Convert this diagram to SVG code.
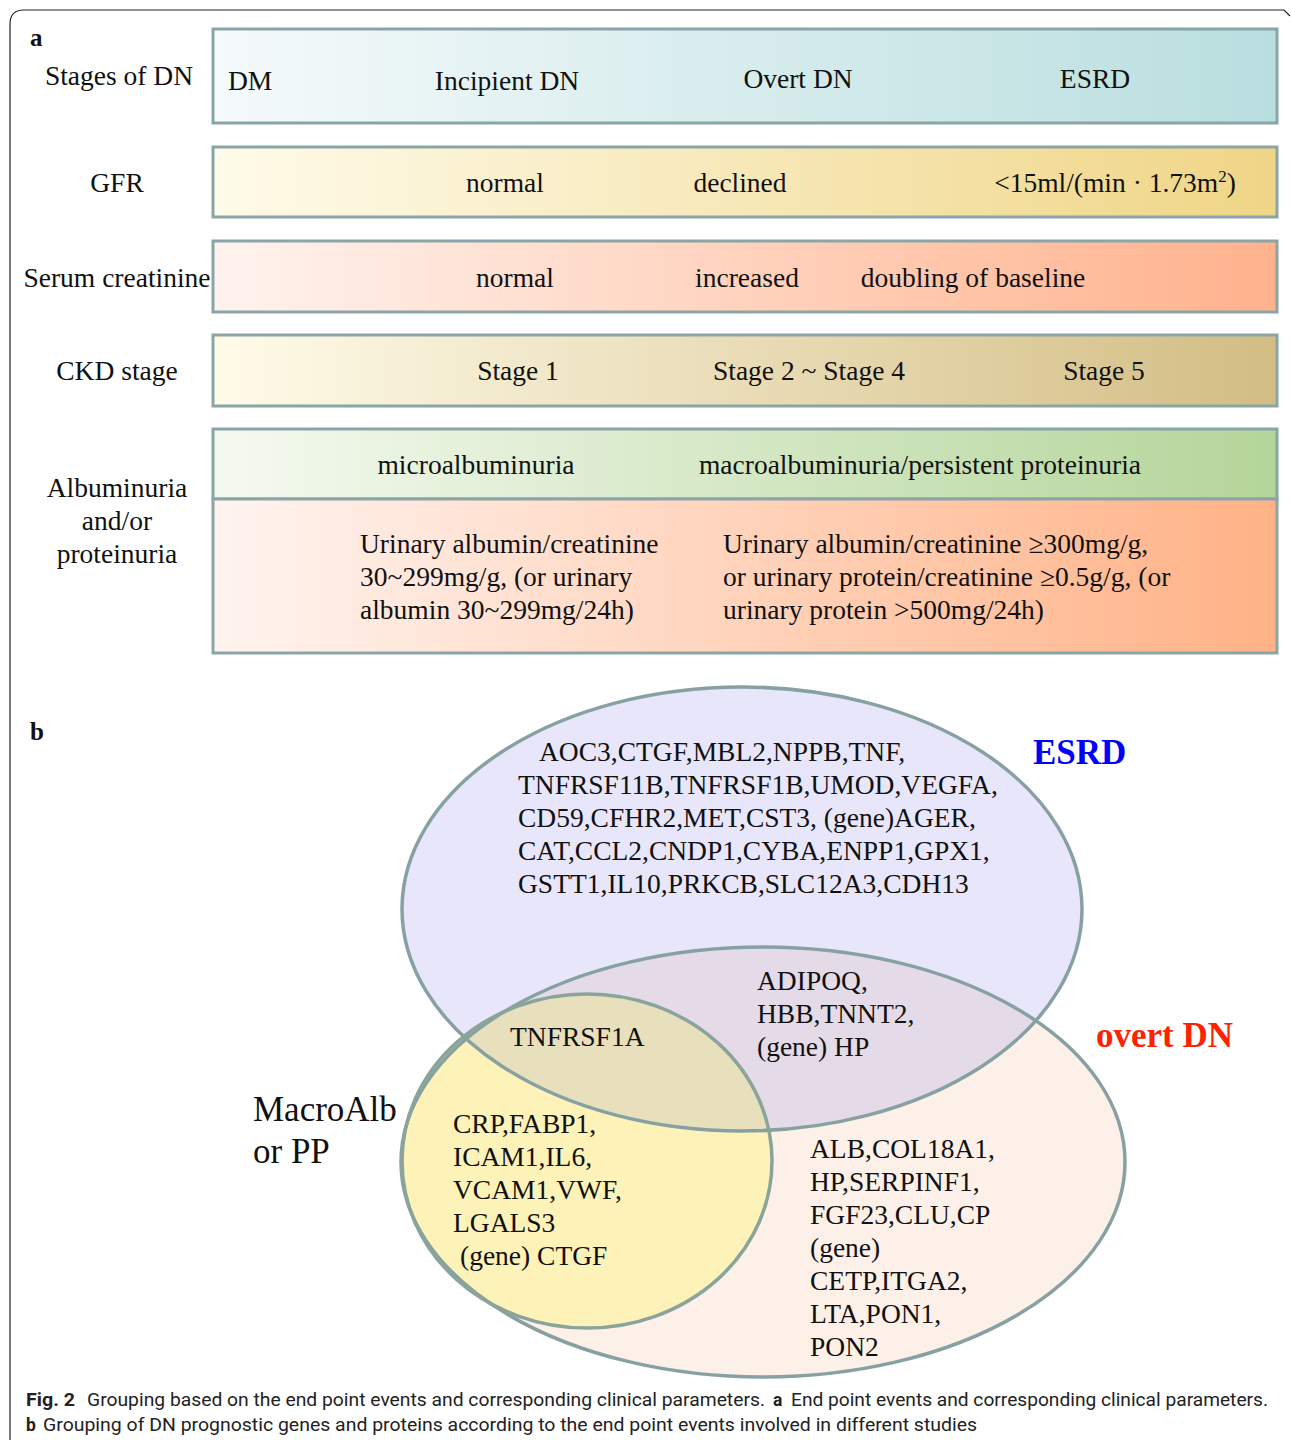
<svg xmlns="http://www.w3.org/2000/svg" width="1292" height="1443" viewBox="0 0 1292 1443">
<style>
.t{font-family:"Liberation Serif","Times New Roman",serif;font-size:27.5px;fill:#111}
.big{font-size:35px}
.lbl{font-size:25px;font-weight:bold}
.c{text-anchor:middle}
.box{stroke:#8aa5a7;stroke-width:3}
.ell{fill:none;stroke:#87a1a3;stroke-width:3.5}
.cap{font-family:Roboto,"Open Sans",sans-serif;font-size:17.5px;fill:#222}
.b{font-weight:bold}
</style>
<defs>
<linearGradient id="g1"><stop offset="0" stop-color="#f5fafb"/><stop offset="1" stop-color="#b9dedf"/></linearGradient>
<linearGradient id="g2"><stop offset="0" stop-color="#fffbea"/><stop offset="1" stop-color="#efd586"/></linearGradient>
<linearGradient id="g3"><stop offset="0" stop-color="#fff3ef"/><stop offset="1" stop-color="#ffb28c"/></linearGradient>
<linearGradient id="g4"><stop offset="0" stop-color="#fffbe9"/><stop offset="1" stop-color="#d3bd84"/></linearGradient>
<linearGradient id="g5"><stop offset="0" stop-color="#f5faf0"/><stop offset="1" stop-color="#b4d59a"/></linearGradient>
<linearGradient id="g6"><stop offset="0" stop-color="#fff4f0"/><stop offset="1" stop-color="#ffb286"/></linearGradient>
<clipPath id="cOvert"><ellipse cx="763" cy="1162" rx="362" ry="215"/></clipPath>
<clipPath id="cEsrd"><ellipse cx="742" cy="909" rx="340" ry="222"/></clipPath>
</defs>
<path d="M10,1440 L10,24 Q10,10 24,10 L1284,10 L1290,16" fill="none" stroke="#222" stroke-width="1.2"/>
<g id="panel-a">
<text x="30" y="46" class="t lbl">a</text>
<g id="stages">
<rect x="213" y="29" width="1064" height="94" fill="url(#g1)" class="box"/>
<text x="119" y="85" class="t c">Stages of DN</text>
<text x="228" y="90" class="t">DM</text>
<text x="507" y="90" class="t c">Incipient DN</text>
<text x="798" y="88" class="t c">Overt DN</text>
<text x="1095" y="88" class="t c">ESRD</text>
</g>
<g id="gfr">
<rect x="213" y="147" width="1064" height="70" fill="url(#g2)" class="box"/>
<text x="117" y="192" class="t c">GFR</text>
<text x="505" y="192" class="t c">normal</text>
<text x="740" y="192" class="t c">declined</text>
<text x="1115" y="192" class="t c">&lt;15ml/(min · 1.73m<tspan font-size="17" dy="-10">2</tspan><tspan dy="10">)</tspan></text>
</g>
<g id="creatinine">
<rect x="213" y="241" width="1064" height="71" fill="url(#g3)" class="box"/>
<text x="117" y="287" class="t c">Serum creatinine</text>
<text x="515" y="287" class="t c">normal</text>
<text x="747" y="287" class="t c">increased</text>
<text x="973" y="287" class="t c">doubling of baseline</text>
</g>
<g id="ckd">
<rect x="213" y="335" width="1064" height="71" fill="url(#g4)" class="box"/>
<text x="117" y="380" class="t c">CKD stage</text>
<text x="518" y="380" class="t c">Stage 1</text>
<text x="809" y="380" class="t c">Stage 2 ~ Stage 4</text>
<text x="1104" y="380" class="t c">Stage 5</text>
</g>
<g id="albuminuria">
<rect x="213" y="429" width="1064" height="70" fill="url(#g5)" class="box"/>
<rect x="213" y="499" width="1064" height="154" fill="url(#g6)" class="box"/>
<text x="117" y="497" class="t c">Albuminuria</text>
<text x="117" y="530" class="t c">and/or</text>
<text x="117" y="563" class="t c">proteinuria</text>
<text x="476" y="474" class="t c">microalbuminuria</text>
<text x="920" y="474" class="t c">macroalbuminuria/persistent proteinuria</text>
<text x="360" y="553" class="t">Urinary albumin/creatinine</text>
<text x="360" y="586" class="t">30~299mg/g, (or urinary</text>
<text x="360" y="619" class="t">albumin 30~299mg/24h)</text>
<text x="723" y="553" class="t">Urinary albumin/creatinine ≥300mg/g,</text>
<text x="723" y="586" class="t">or urinary protein/creatinine ≥0.5g/g, (or</text>
<text x="723" y="619" class="t">urinary protein &gt;500mg/24h)</text>
</g>
</g>
<g id="panel-b">
<text x="30" y="740" class="t lbl">b</text>
<g id="fills">
<ellipse cx="763" cy="1162" rx="362" ry="215" fill="#fdf0e8"/>
<ellipse cx="742" cy="909" rx="340" ry="222" fill="#e8e6fa"/>
<ellipse cx="742" cy="909" rx="340" ry="222" fill="#e5dbe8" clip-path="url(#cOvert)"/>
<ellipse cx="587" cy="1161" rx="185" ry="167" fill="#fdf2b8"/>
<ellipse cx="587" cy="1161" rx="185" ry="167" fill="#e8e0bc" clip-path="url(#cEsrd)"/>
</g>
<g id="node-overt">
<ellipse cx="763" cy="1162" rx="362" ry="215" class="ell"/>
<text x="1096" y="1047" class="t big b" style="fill:#ff2200">overt DN</text>
</g>
<g id="node-esrd">
<ellipse cx="742" cy="909" rx="340" ry="222" class="ell"/>
<text x="1033" y="764" class="t big b" style="fill:#0000ff">ESRD</text>
</g>
<g id="node-macro">
<ellipse cx="587" cy="1161" rx="185" ry="167" class="ell" style="stroke:#8aa49c"/>
<text x="253" y="1121" class="t big">MacroAlb</text>
<text x="253" y="1163" class="t big">or PP</text>
</g>
<g id="labels">
<text x="539" y="761" class="t">AOC3,CTGF,MBL2,NPPB,TNF,</text>
<text x="518" y="794" class="t">TNFRSF11B,TNFRSF1B,UMOD,VEGFA,</text>
<text x="518" y="827" class="t">CD59,CFHR2,MET,CST3, (gene)AGER,</text>
<text x="518" y="860" class="t">CAT,CCL2,CNDP1,CYBA,ENPP1,GPX1,</text>
<text x="518" y="893" class="t">GSTT1,IL10,PRKCB,SLC12A3,CDH13</text>
<text x="510" y="1046" class="t">TNFRSF1A</text>
<text x="757" y="990" class="t">ADIPOQ,</text>
<text x="757" y="1023" class="t">HBB,TNNT2,</text>
<text x="757" y="1056" class="t">(gene) HP</text>
<text x="453" y="1133" class="t">CRP,FABP1,</text>
<text x="453" y="1166" class="t">ICAM1,IL6,</text>
<text x="453" y="1199" class="t">VCAM1,VWF,</text>
<text x="453" y="1232" class="t">LGALS3</text>
<text x="460" y="1265" class="t">(gene) CTGF</text>
<text x="810" y="1158" class="t">ALB,COL18A1,</text>
<text x="810" y="1191" class="t">HP,SERPINF1,</text>
<text x="810" y="1224" class="t">FGF23,CLU,CP</text>
<text x="810" y="1257" class="t">(gene)</text>
<text x="810" y="1290" class="t">CETP,ITGA2,</text>
<text x="810" y="1323" class="t">LTA,PON1,</text>
<text x="810" y="1356" class="t">PON2</text>
</g>
</g>
<g id="caption">
<text x="26" y="1406" class="cap b" textLength="49" lengthAdjust="spacingAndGlyphs">Fig. 2</text>
<text x="87" y="1406" class="cap" textLength="678" lengthAdjust="spacingAndGlyphs">Grouping based on the end point events and corresponding clinical parameters.</text>
<text x="773" y="1406" class="cap b">a</text>
<text x="791" y="1406" class="cap" textLength="477" lengthAdjust="spacingAndGlyphs">End point events and corresponding clinical parameters.</text>
<text x="26" y="1431" class="cap b">b</text>
<text x="43" y="1431" class="cap" textLength="934" lengthAdjust="spacingAndGlyphs">Grouping of DN prognostic genes and proteins according to the end point events involved in different studies</text>
</g>
</svg>
